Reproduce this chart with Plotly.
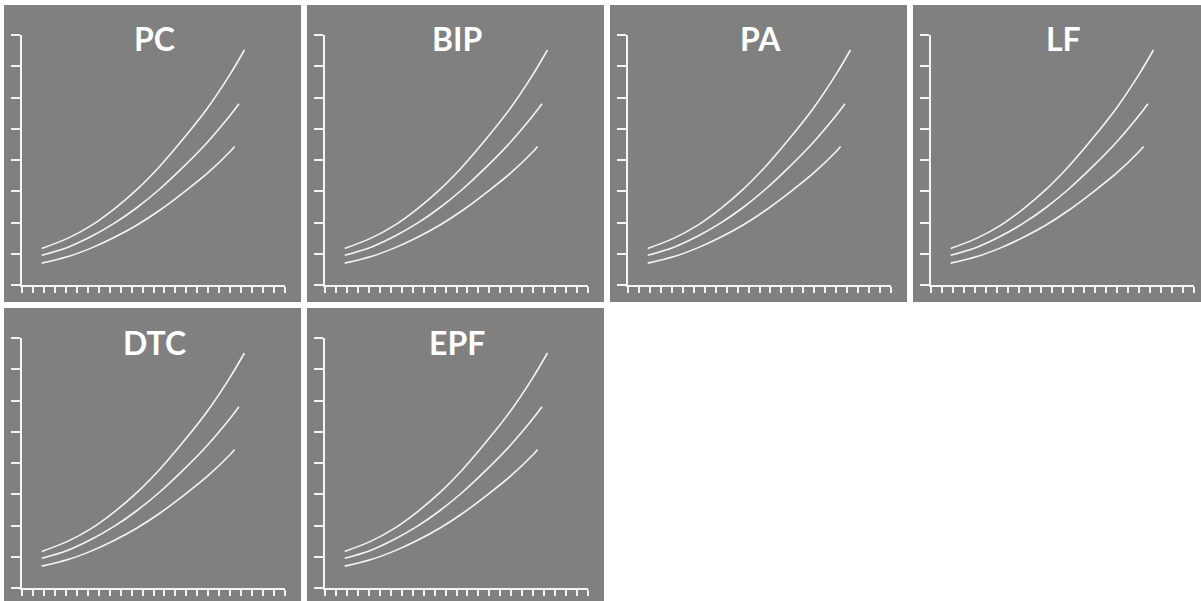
import plotly.graph_objects as go

# ---- data ----
panel_titles = ["PC", "BIP", "PA", "LF", "DTC", "EPF"]

x_upper = [1.8, 4.2, 6.3, 8.4, 10.5, 12.6, 14.7, 16.9, 19.0, 20.3]
y_upper = [1.17, 1.50, 1.90, 2.43, 3.06, 3.81, 4.67, 5.65, 6.75, 7.52]

x_middle = [1.8, 4.2, 6.3, 8.4, 10.5, 12.6, 14.7, 16.9, 19.0, 19.8]
y_middle = [0.95, 1.21, 1.55, 1.97, 2.48, 3.08, 3.77, 4.56, 5.43, 5.80]

x_lower = [1.8, 4.2, 6.3, 8.4, 10.5, 12.6, 14.7, 16.9, 19.0, 19.4]
y_lower = [0.70, 0.91, 1.18, 1.52, 1.92, 2.40, 2.95, 3.57, 4.27, 4.43]

x_range = [0, 24]
y_range = [0, 8]

# ---- layout geometry (pixels) ----
W, H = 1201, 601
PANEL = 297
PITCH = 303
LEFT0, TOP0 = 4, 5
PLOT_L, PLOT_R = 18, 281   # plot area offsets inside a panel
PLOT_T, PLOT_B = 30, 280
GRAY = "#808080"
WHITE = "#f4f4f4"

fig = go.Figure()
layout = dict(
    width=W, height=H,
    margin=dict(l=0, r=0, t=0, b=0),
    paper_bgcolor="white", plot_bgcolor="rgba(0,0,0,0)",
    showlegend=False,
    shapes=[], annotations=[],
)

for i, title in enumerate(panel_titles):
    k = i + 1
    col, row = i % 4, i // 4
    left = LEFT0 + PITCH * col
    top = TOP0 + PITCH * row
    xs = "" if k == 1 else str(k)

    layout["shapes"].append(dict(
        type="rect", xref="paper", yref="paper", layer="below",
        x0=left / W, x1=(left + PANEL) / W,
        y0=1 - (top + PANEL) / H, y1=1 - top / H,
        fillcolor=GRAY, line=dict(width=0),
    ))

    layout["xaxis" + xs] = dict(
        domain=[(left + PLOT_L) / W, (left + PLOT_R) / W],
        anchor="y" + xs, range=x_range,
        showline=True, linecolor=WHITE, linewidth=2,
        ticks="outside", ticklen=6, tickwidth=2, tickcolor=WHITE,
        tick0=0, dtick=1, showticklabels=False,
        showgrid=False, zeroline=False, fixedrange=True,
    )
    layout["yaxis" + xs] = dict(
        domain=[1 - (top + PLOT_B) / H, 1 - (top + PLOT_T) / H],
        anchor="x" + xs, range=y_range,
        showline=True, linecolor=WHITE, linewidth=2,
        ticks="outside", ticklen=9, tickwidth=2, tickcolor=WHITE,
        tick0=0, dtick=1, showticklabels=False,
        showgrid=False, zeroline=False, fixedrange=True,
    )

    for xv, yv in ((x_upper, y_upper), (x_middle, y_middle), (x_lower, y_lower)):
        fig.add_trace(go.Scatter(
            x=xv, y=yv, mode="lines",
            line=dict(color=WHITE, width=1.6, shape="spline"),
            xaxis="x" + xs, yaxis="y" + xs, hoverinfo="skip",
        ))

    layout["annotations"].append(dict(
        text=title, xref="paper", yref="paper",
        x=(left + 150) / W, y=1 - (top + 34) / H,
        xanchor="center", yanchor="middle", showarrow=False,
        font=dict(family="Lato", size=32, color="white", weight="bold"),
    ))

fig.update_layout(**layout)
fig.write_html(
    "out.html",
    config={"displayModeBar": False, "staticPlot": True},
    post_script="document.body.style.margin='0px';document.body.style.overflow='hidden';",
)
